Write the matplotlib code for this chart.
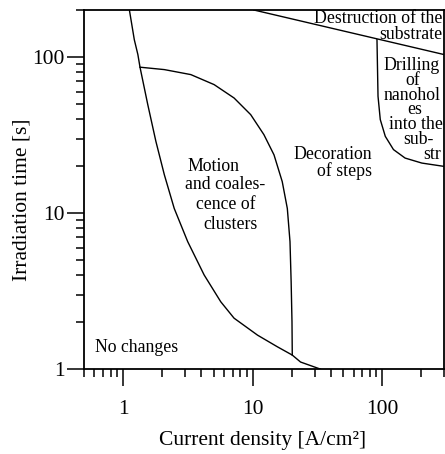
"""
Regime map: irradiation time vs current density (log-log), boundaries drawn as lines.
"""
import matplotlib
matplotlib.use("Agg")
import matplotlib.pyplot as plt
from matplotlib.ticker import LogLocator, NullFormatter, FixedLocator, FixedFormatter

plt.rcParams["font.family"] = ["Liberation Serif", "DejaVu Serif"]

# boundary lines (current density [A/cm^2], time [s])
motion_left_x = [1.118, 1.22, 1.30, 1.35, 1.55, 1.79, 2.08, 2.48, 3.15, 4.22, 5.67, 7.18,
                 10.9, 15.5, 20.2, 23.4, 33.3]
motion_left_y = [200, 129, 103.6, 86, 49.5, 28.8, 17.6, 10.7, 6.56, 4.01, 2.70, 2.12,
                 1.65, 1.39, 1.23, 1.11, 1.0]

motion_top_x = [1.35, 2.08, 3.33, 5.04, 7.18, 9.65, 12.2, 14.6, 16.9, 18.5, 19.4, 19.8, 20.1, 20.2]
motion_top_y = [86, 83.0, 77.1, 66.5, 54.6, 42.7, 31.8, 23.6, 15.9, 10.7, 6.56, 3.63, 2.01, 1.23]

destruction_x = [10.2, 300]
destruction_y = [200, 103.6]

drilling_x = [91, 92.7, 96.5, 105.5, 122, 150, 202, 300]
drilling_y = [129, 56, 39.7, 31.0, 25.5, 22.5, 20.9, 19.9]

x_ticks = [1, 10, 100]
x_tick_labels = ["1", "10", "100"]
y_ticks = [1, 10, 100]
y_tick_labels = ["1", "10", "100"]

# (text, x, y, ha) -- y is the baseline
region_labels = [
    ("Destruction of the", 290, 165, "right"),
    ("substrate", 290, 130, "right"),
    ("Decoration", 83.8, 22.1, "right"),
    ("of steps", 83.8, 17.2, "right"),
    ("No changes", 0.61, 1.285, "left"),
    ("Motion", 5.01, 18.7, "center"),
    ("and coales-", 6.14, 14.2, "center"),
    ("cence of", 6.2, 10.6, "center"),
    ("clusters", 6.77, 7.92, "center"),
    ("Drilling", 169, 82.2, "center"),
    ("of", 172, 66.1, "center"),
    ("nanohol", 170, 53.2, "center"),
    ("es", 178, 42.8, "center"),
    ("into the", 183, 34.5, "center"),
    ("sub-", 189, 27.7, "center"),
    ("str", 243, 22.3, "center"),
]


def main():
    fig = plt.figure(figsize=(4.45, 4.54), dpi=100)
    ax = fig.add_axes([0.189, 0.187, 0.809, 0.791])

    lw = 1.0
    ax.plot(motion_left_x, motion_left_y, color="black", lw=lw)
    ax.plot(motion_top_x, motion_top_y, color="black", lw=lw)
    ax.plot(destruction_x, destruction_y, color="black", lw=lw)
    ax.plot(drilling_x, drilling_y, color="black", lw=lw)

    ax.set_xscale("log")
    ax.set_yscale("log")
    ax.set_xlim(0.5, 300)
    ax.set_ylim(1, 200)

    ax.xaxis.set_major_locator(FixedLocator(x_ticks))
    ax.xaxis.set_major_formatter(FixedFormatter(x_tick_labels))
    ax.yaxis.set_major_locator(FixedLocator(y_ticks))
    ax.yaxis.set_major_formatter(FixedFormatter(y_tick_labels))
    for axis in (ax.xaxis, ax.yaxis):
        axis.set_minor_locator(LogLocator(base=10, subs=range(2, 10)))
        axis.set_minor_formatter(NullFormatter())

    ax.tick_params(which="major", direction="out", length=12, width=1.1, labelsize=15.5)
    ax.tick_params(axis="x", which="major", pad=10)
    ax.tick_params(axis="y", which="major", pad=2)
    ax.tick_params(which="minor", direction="out", length=6, width=1.1)
    for sp in ax.spines.values():
        sp.set_linewidth(1.3)

    ax.set_xlabel("Current density [A/cm²]", fontsize=15.5, va="center")
    ax.xaxis.set_label_coords(0.497, -0.198)
    ax.set_ylabel("Irradiation time [s]", fontsize=15.5, va="center")
    ax.yaxis.set_label_coords(-0.172, 0.471)

    for text, x, y, ha in region_labels:
        ax.text(x, y, text, ha=ha, va="baseline", fontsize=12.8)

    fig.savefig("out.png", dpi=100)
    plt.close(fig)


if __name__ == "__main__":
    main()
